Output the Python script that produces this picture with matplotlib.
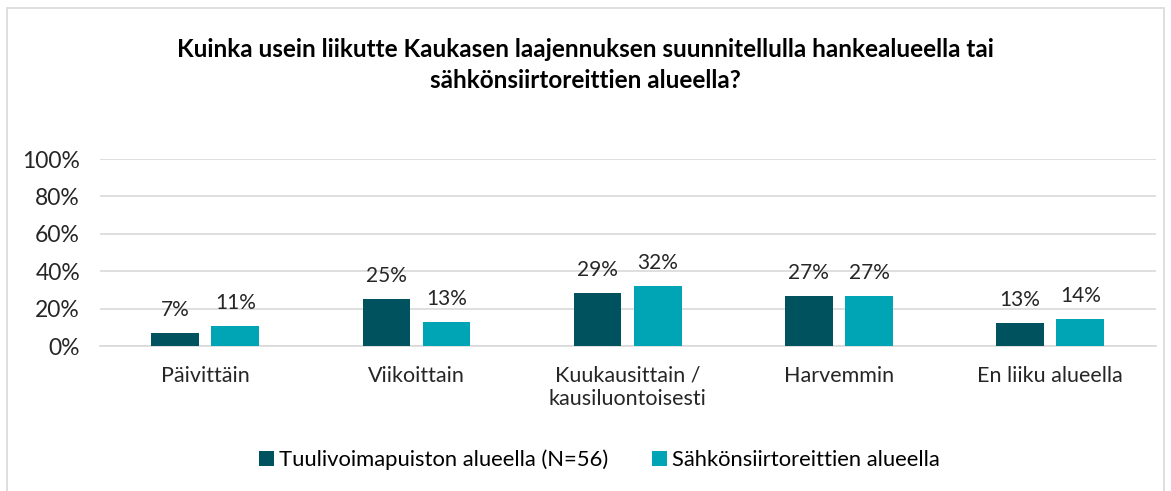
import matplotlib.pyplot as plt
import numpy as np
from matplotlib.patches import Rectangle

categories = ["Päivittäin", "Viikoittain", "Kuukausittain /\nkausiluontoisesti", "Harvemmin", "En liiku alueella"]
tuulivoima = [7.1, 25.0, 28.6, 26.8, 12.5]
sahkonsiirto = [10.9, 12.9, 32.1, 26.8, 14.3]
labels_tuuli = ["7%", "25%", "29%", "27%", "13%"]
labels_sahko = ["11%", "13%", "32%", "27%", "14%"]
series_names = ["Tuulivoimapuiston alueella (N=56)", "Sähkönsiirtoreittien alueella"]

dark = "#00535E"
cyan = "#00A5B5"

plt.rcParams['font.family'] = ['Lato', 'DejaVu Sans']

fig = plt.figure(figsize=(11.71, 4.91), dpi=100)
fig.patches.append(Rectangle((0.006, -0.01), 0.988, 0.993, transform=fig.transFigure,
                             fill=False, edgecolor="#D9D9D9", linewidth=1.2))

ax = fig.add_axes([0.085, 0.295, 0.902, 0.381])
x = np.arange(len(categories))
w = 0.225
ax.bar(x - w / 2 - 0.03, tuulivoima, w, color=dark, label=series_names[0], zorder=3)
ax.bar(x + w / 2 + 0.03, sahkonsiirto, w, color=cyan, label=series_names[1], zorder=3)

for i in range(len(categories)):
    ax.text(x[i] - w / 2 - 0.03, tuulivoima[i] + 7, labels_tuuli[i], ha="center", va="bottom", fontsize=15, color="#262626")
    ax.text(x[i] + w / 2 + 0.03, sahkonsiirto[i] + 7, labels_sahko[i], ha="center", va="bottom", fontsize=15, color="#262626")

ax.set_ylim(0, 100)
ax.set_xlim(-0.5, len(categories) - 0.5)
ax.set_yticks(range(0, 101, 20))
ax.set_yticklabels([f"{v}%" for v in range(0, 101, 20)], fontsize=16.5, color="#262626")
ax.set_xticks(x)
ax.set_xticklabels(categories, fontsize=15.5, color="#262626", linespacing=1.2)
ax.tick_params(axis="x", length=0, pad=14)
ax.tick_params(axis="y", length=0, pad=14)
ax.grid(axis="y", color="#D9D9D9", linewidth=1.2, zorder=0)
for s in ["top", "right", "left"]:
    ax.spines[s].set_visible(False)
ax.spines["bottom"].set_color("#D9D9D9")
ax.spines["bottom"].set_linewidth(1.2)

fig.text(0.5, 0.868, "Kuinka usein liikutte Kaukasen laajennuksen suunnitellulla hankealueella tai\nsähkönsiirtoreittien alueella?",
         ha="center", va="center", fontsize=17.5, fontweight="bold", color="#000000", linespacing=1.45)

fig.legend(loc="center", bbox_to_anchor=(0.512, 0.063), ncol=2, frameon=False, fontsize=15.8,
           handlelength=0.65, handleheight=0.65, handletextpad=0.25, columnspacing=2.0)

fig.savefig("out.png", dpi=100)
